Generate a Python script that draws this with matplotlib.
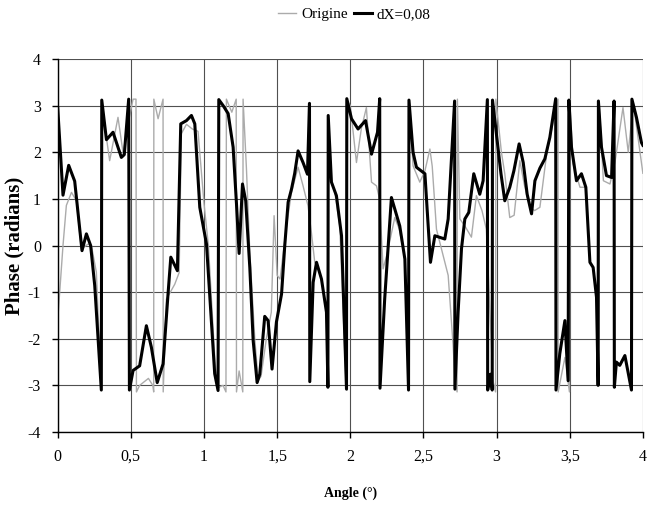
import matplotlib
matplotlib.use("Agg")
import matplotlib.pyplot as plt

# Origine (gray thin line)
x_orig = [0.0, 0.036, 0.059, 0.094, 0.128, 0.161, 0.207, 0.23, 0.264, 0.298, 0.301,
          0.32, 0.355, 0.412, 0.447, 0.48, 0.515, 0.535, 0.538, 0.56, 0.58, 0.62,
          0.65, 0.656, 0.657, 0.686, 0.72, 0.721, 0.743, 0.8, 0.83, 0.845, 0.88,
          0.92, 0.959, 1.0, 1.03, 1.075, 1.096, 1.13, 1.15, 1.153, 1.19, 1.22,
          1.222, 1.24, 1.265, 1.267, 1.29, 1.313, 1.347, 1.37, 1.39, 1.426, 1.46,
          1.479, 1.5, 1.52, 1.564, 1.598, 1.643, 1.677, 1.711, 1.734, 1.757, 1.78,
          1.803, 1.837, 1.847, 1.849, 1.871, 1.894, 1.928, 1.97, 1.978, 1.98, 2.0,
          2.042, 2.075, 2.11, 2.145, 2.179, 2.2, 2.224, 2.25, 2.304, 2.335, 2.373,
          2.4, 2.403, 2.41, 2.429, 2.475, 2.51, 2.544, 2.56, 2.589, 2.623, 2.669,
          2.703, 2.716, 2.73, 2.732, 2.749, 2.783, 2.828, 2.862, 2.9, 2.93, 2.975,
          2.993, 2.995, 3.033, 3.056, 3.09, 3.12, 3.159, 3.19, 3.227, 3.26, 3.296,
          3.342, 3.398, 3.42, 3.421, 3.467, 3.498, 3.5, 3.523, 3.57, 3.61, 3.638,
          3.66, 3.683, 3.698, 3.7, 3.73, 3.775, 3.81, 3.864, 3.9, 3.935, 4.0]
y_orig = [-1.6, 0.0, 0.86, 1.14, 0.96, -0.07, 0.03, 0.0, -0.57, -3.1, 3.1,
          2.6, 1.82, 2.75, 1.98, 2.6, 3.14, 3.14, -3.14, -3.0, -2.95, -2.85,
          -3.0, -3.14, 3.14, 2.72, 3.14, -3.14, -1.15, -0.83, -0.58, 2.4, 2.6,
          2.5, 2.45, 0.9, 0.0, -2.5, -3.05, -3.0, -3.14, 3.14, 2.86, 3.14,
          -3.14, -2.69, -3.14, 3.14, 1.65, -0.15, -2.0, -2.9, -2.8, -2.0, -1.43,
          0.64, -0.64, -0.72, 0.42, 1.14, 1.68, 1.28, 0.85, 0.28, -0.36, -0.5,
          -0.72, -1.43, -3.04, 1.6, 1.4, 1.14, 0.42, -2.9, -3.1, 3.1, 3.0,
          1.78, 2.5, 2.96, 1.36, 1.28, 1.0, -0.5, -0.2, 0.6, 0.35, -0.29,
          -3.0, 3.1, 2.7, 1.71, 1.36, 1.6, 2.07, 1.7, 0.35, -0.07, -0.64,
          -2.15, -2.9, -3.14, 3.14, 0.57, 0.42, 0.18, 1.07, 0.75, 0.35, -2.9,
          -3.14, 3.14, 2.0, 1.54, 0.6, 0.65, 1.82, 1.3, 0.82, 0.75, 0.82,
          1.96, 2.82, 3.14, -3.14, -2.4, -3.14, 3.14, 1.75, 1.25, 1.25, -0.36,
          -0.47, -1.11, -3.0, 3.1, 1.39, 1.32, 1.8, 2.96, 2.0, 3.05, 1.55]

# dX=0,08 (black thick line)
x_dx = [0.0, 0.036, 0.075, 0.116, 0.166, 0.196, 0.225, 0.253, 0.298, 0.301, 0.333,
        0.378, 0.435, 0.455, 0.485, 0.49, 0.515, 0.56, 0.606, 0.64, 0.68, 0.72,
        0.754, 0.773, 0.818, 0.841, 0.88, 0.914, 0.937, 0.971, 1.017, 1.073,
        1.096, 1.101, 1.131, 1.165, 1.199, 1.222, 1.24, 1.263, 1.285, 1.313,
        1.336, 1.363, 1.381, 1.415, 1.438, 1.465, 1.495, 1.53, 1.552, 1.575,
        1.598, 1.62, 1.643, 1.677, 1.707, 1.721, 1.723, 1.746, 1.769, 1.803,
        1.837, 1.847, 1.849, 1.871, 1.905, 1.94, 1.974, 1.976, 2.008, 2.053,
        2.104, 2.145, 2.186, 2.201, 2.203, 2.235, 2.281, 2.338, 2.373, 2.398,
        2.401, 2.429, 2.452, 2.51, 2.548, 2.578, 2.646, 2.669, 2.713, 2.715,
        2.737, 2.76, 2.783, 2.81, 2.844, 2.885, 2.908, 2.937, 2.939, 2.958,
        2.97, 2.972, 3.0, 3.03, 3.056, 3.09, 3.118, 3.154, 3.182, 3.209, 3.239,
        3.262, 3.296, 3.33, 3.364, 3.404, 3.406, 3.432, 3.467, 3.489, 3.494,
        3.512, 3.546, 3.58, 3.61, 3.638, 3.66, 3.683, 3.694, 3.696, 3.717,
        3.751, 3.786, 3.803, 3.805, 3.819, 3.842, 3.877, 3.922, 3.925, 3.956,
        3.99, 4.0]
y_dx = [2.95, 1.08, 1.72, 1.38, -0.11, 0.25, 0.0, -0.86, -3.1, 3.12, 2.27,
        2.43, 1.89, 1.95, 3.14, -3.1, -2.68, -2.58, -1.72, -2.18, -2.94, -2.54,
        -1.04, -0.25, -0.54, 2.61, 2.68, 2.79, 2.61, 0.82, 0.03, -2.75,
        -3.11, 3.13, 3.0, 2.83, 2.11, 0.89, -0.17, 1.32, 0.96, -0.47,
        -2.04, -2.94, -2.76, -1.52, -1.61, -2.65, -1.64, -1.04, 0.0, 0.93,
        1.21, 1.55, 2.03, 1.78, 1.53, 3.05, -2.92, -0.79, -0.36, -0.72,
        -1.43, -3.04, 2.79, 1.36, 1.07, 0.21, -3.08, 3.15, 2.72, 2.5,
        2.68, 1.96, 2.43, 3.15, -3.06, -1.15, 1.03, 0.42, -0.29, -3.1,
        3.12, 2.0, 1.68, 1.54, -0.36, 0.21, 0.14, 0.57, 3.1, -3.08,
        -1.43, -0.07, 0.57, 0.71, 1.54, 1.1, 1.39, 3.13, -3.1, -2.76,
        -3.1, 3.12, 2.36, 1.54, 0.96, 1.25, 1.6, 2.18, 1.78, 1.1, 0.68,
        1.39, 1.66, 1.86, 2.32, 3.15, -3.1, -2.32, -1.61, -2.9, 3.12,
        2.11, 1.39, 1.54, 1.25, -0.36, -0.47, -1.11, -3.0, 3.1, 2.11,
        1.5, 1.46, 3.1, -3.04, -2.5, -2.57, -2.36, -3.1, 3.14, 2.75,
        2.21, 2.15]

xticks = [0, 0.5, 1, 1.5, 2, 2.5, 3, 3.5, 4]
xtick_labels = ["0", "0,5", "1", "1,5", "2", "2,5", "3", "3,5", "4"]
yticks = [-4, -3, -2, -1, 0, 1, 2, 3, 4]

plt.rcParams['font.family'] = ['Liberation Serif', 'DejaVu Serif']
plt.rcParams['axes.unicode_minus'] = False

fig = plt.figure(figsize=(6.56, 5.18), dpi=100)
ax = fig.add_axes([0.088, 0.166, 0.892, 0.720])

l1, = ax.plot(x_orig, y_orig, color='#ababab', lw=1.0)
l2, = ax.plot(x_dx, y_dx, color='black', lw=2.2, solid_joinstyle='round')

ax.set_xlim(0, 4)
ax.set_ylim(-4, 4)
ax.set_xticks(xticks)
ax.set_xticklabels(xtick_labels)
ax.set_yticks(yticks)
ax.grid(True, color='#505050', lw=0.8)
ax.set_axisbelow(True)
for s in ['top', 'right']:
    ax.spines[s].set_visible(False)
ax.spines['left'].set_linewidth(1.0)
ax.spines['bottom'].set_linewidth(1.0)
ax.tick_params(direction='out', length=4, width=1, labelsize=11.5, pad=8)

ax.set_ylabel('Phase (radians)', fontsize=15, fontweight='bold', labelpad=2)
ax.set_xlabel('Angle (°)', fontsize=10, fontweight='bold', labelpad=16)

fig.legend([l1, l2], ['Origine', 'dX=0,08'], loc='upper center',
           bbox_to_anchor=(0.54, 1.012), ncol=2, frameon=False, fontsize=11,
           handlelength=1.2, handletextpad=0.3, columnspacing=0.4)

fig.savefig('out.png', dpi=100)
